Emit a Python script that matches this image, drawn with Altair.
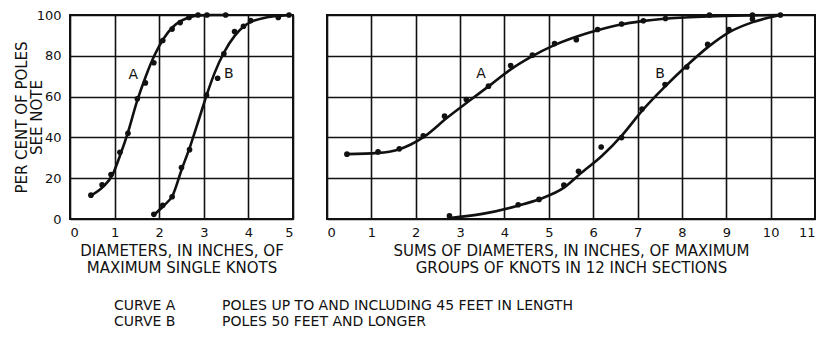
import altair as alt
import pandas as pd

# ---- data ----
# Left panel: diameters of maximum single knots
left_a_x = [0.47, 0.72, 0.92, 1.12, 1.30, 1.51, 1.69, 1.88, 2.08, 2.29, 2.47, 2.67, 2.87, 3.07, 3.49]
left_a_y = [11.7, 16.7, 21.8, 32.7, 42.0, 58.9, 66.7, 76.6, 87.5, 93.1, 96.3, 98.8, 100, 100, 100]
left_b_x = [1.88, 2.08, 2.29, 2.50, 2.68, 3.06, 3.31, 3.45, 3.69, 3.89, 4.05, 4.67, 4.91]
left_b_y = [2.3, 6.7, 10.9, 25.2, 34.0, 60.7, 69.0, 81.0, 91.9, 94.5, 97.3, 98.8, 100]

# smooth curves drawn through the points
left_a_cx = [0.47, 0.75, 0.95, 1.12, 1.30, 1.50, 1.70, 1.90, 2.10, 2.30, 2.50, 2.70, 2.90, 3.20, 3.50]
left_a_cy = [11.5, 16.0, 21.5, 31.0, 42.5, 57.5, 70.0, 80.5, 88.5, 94.0, 97.2, 99.0, 99.8, 100, 100]
left_b_cx = [1.88, 2.10, 2.30, 2.50, 2.70, 2.90, 3.06, 3.25, 3.45, 3.70, 3.90, 4.10, 4.40, 4.70, 4.95]
left_b_cy = [2.0, 6.5, 11.5, 24.0, 36.0, 49.5, 60.5, 72.0, 81.5, 90.0, 94.5, 97.0, 98.8, 99.6, 100]

# Right panel: sums of diameters of maximum groups of knots in 12 inch sections
right_a_x = [0.45, 1.15, 1.63, 2.17, 2.65, 3.14, 3.64, 4.14, 4.63, 5.13, 5.62, 6.10, 6.64, 7.13, 7.63, 8.62, 9.59]
right_a_y = [31.8, 32.9, 34.4, 40.8, 50.4, 58.6, 65.1, 75.2, 80.3, 86.0, 87.9, 92.9, 95.6, 97.2, 98.3, 100, 100]
right_b_x = [2.76, 4.31, 4.78, 5.34, 5.67, 6.18, 6.64, 7.10, 7.62, 8.11, 8.58, 9.06, 9.59, 10.22]
right_b_y = [1.5, 7.0, 9.6, 16.6, 23.4, 35.3, 39.9, 53.9, 65.9, 74.5, 85.6, 92.9, 98.0, 100]

right_a_cx = [0.45, 1.15, 1.60, 2.20, 2.70, 3.20, 3.70, 4.15, 4.60, 5.10, 5.60, 6.10, 6.60, 7.10, 7.60, 8.60, 9.60, 10.22]
right_a_cy = [31.8, 32.4, 34.0, 40.5, 49.5, 57.8, 66.0, 73.5, 79.5, 85.0, 89.2, 92.5, 95.2, 97.0, 98.2, 99.3, 99.8, 100]
right_b_cx = [2.76, 3.50, 4.30, 4.80, 5.35, 5.70, 6.20, 6.65, 7.10, 7.60, 8.10, 8.60, 9.06, 9.60, 10.22]
right_b_cy = [0.5, 2.5, 6.5, 9.8, 15.5, 22.0, 31.0, 41.0, 53.0, 64.5, 75.0, 84.5, 91.5, 96.5, 100]

# curve letter positions
left_lab_x = [1.42, 3.56]
left_lab_y = [70.6, 70.9]
right_lab_x = [3.47, 7.51]
right_lab_y = [71.3, 71.0]
lab_text = ["A", "B"]

y_ticks = [0, 20, 40, 60, 80, 100]
left_x_ticks = [0, 1, 2, 3, 4, 5]
right_x_ticks = list(range(0, 12))

note_keys = ["CURVE A", "CURVE B"]
note_vals = ["POLES UP TO AND INCLUDING 45 FEET IN LENGTH", "POLES 50 FEET AND LONGER"]

FONT = "DejaVu Sans"
INK = "#111111"
H = 204


def frame(xs, ys, name):
    return pd.DataFrame({"x": xs, "y": ys, "curve": name})


def panel(pts, crv, labs, xdom, xticks, xtitle, width, show_y, extra=None):
    xs = alt.Scale(domain=xdom, nice=False, zero=False)
    ys = alt.Scale(domain=[0, 100], nice=False)
    xax = alt.Axis(values=xticks, title=xtitle, grid=True, labelPadding=7, titlePadding=4,
                   format="d")
    if show_y:
        yax = alt.Axis(values=y_ticks, title=["PER CENT OF POLES", "SEE NOTE"], grid=True,
                       labelPadding=9, titleX=-44, titleY=H / 2, titleBaseline="alphabetic",
                       titleAngle=270, titleAlign="center", titleLineHeight=15)
    else:
        yax = alt.Axis(values=y_ticks, title=None, labels=False, grid=True)

    lines = alt.Chart(crv).mark_line(interpolate="monotone", color=INK, strokeWidth=2.6).encode(
        x=alt.X("x:Q", scale=xs, axis=xax),
        y=alt.Y("y:Q", scale=ys, axis=yax),
        detail="curve:N",
    )
    dots = alt.Chart(pts).mark_circle(color=INK, opacity=1, size=32).encode(
        x=alt.X("x:Q", scale=xs), y=alt.Y("y:Q", scale=ys)
    )
    letters = alt.Chart(labs).mark_text(font=FONT, fontSize=14, color=INK, align="center",
                                        baseline="middle").encode(
        x=alt.X("x:Q", scale=xs), y=alt.Y("y:Q", scale=ys), text="t:N"
    )
    layers = [lines, dots, letters]
    if extra is not None:
        layers += extra
    return alt.layer(*layers).properties(width=width, height=H)


left_pts = pd.concat([frame(left_a_x, left_a_y, "A"), frame(left_b_x, left_b_y, "B")])
left_crv = pd.concat([frame(left_a_cx, left_a_cy, "A"), frame(left_b_cx, left_b_cy, "B")])
left_labs = pd.DataFrame({"x": left_lab_x, "y": left_lab_y, "t": lab_text})

right_pts = pd.concat([frame(right_a_x, right_a_y, "A"), frame(right_b_x, right_b_y, "B")])
right_crv = pd.concat([frame(right_a_cx, right_a_cy, "A"), frame(right_b_cx, right_b_cy, "B")])
right_labs = pd.DataFrame({"x": right_lab_x, "y": right_lab_y, "t": lab_text})

note_df = pd.DataFrame({"k": note_keys, "v": note_vals, "row": [0, 1]})
note_marks = []
for row, ypix in [(0, 291), (1, 307)]:
    for field, xpix in [("k", 44), ("v", 152)]:
        note_marks.append(
            alt.Chart(note_df).transform_filter(f"datum.row == {row}").mark_text(
                font=FONT, fontSize=14, color=INK, align="left", baseline="middle"
            ).encode(x=alt.value(xpix), y=alt.value(ypix), text=f"{field}:N")
        )

left = panel(left_pts, left_crv, left_labs, [0, 5], left_x_ticks,
             ["DIAMETERS, IN INCHES, OF", "MAXIMUM SINGLE KNOTS"], 223, True,
             extra=note_marks)
right = panel(right_pts, right_crv, right_labs, [0, 11], right_x_ticks,
              ["SUMS OF DIAMETERS, IN INCHES, OF MAXIMUM", "GROUPS OF KNOTS IN 12 INCH SECTIONS"],
              488, False)

chart = alt.hconcat(left, right, spacing=34, bounds="flush").properties(
    padding={"left": 5, "top": 0, "right": 0, "bottom": 0},
    background="white",
).configure_view(
    stroke=INK, strokeWidth=2
).configure_axis(
    gridColor=INK, gridWidth=1.6, gridOpacity=1, domain=False, ticks=False,
    labelFont=FONT, labelFontSize=13, labelColor=INK,
    titleFont=FONT, titleFontSize=15, titleFontWeight="normal", titleColor=INK,
    titleLineHeight=17,
)

chart.save("out.html", embed_options={"renderer": "svg", "actions": False})
